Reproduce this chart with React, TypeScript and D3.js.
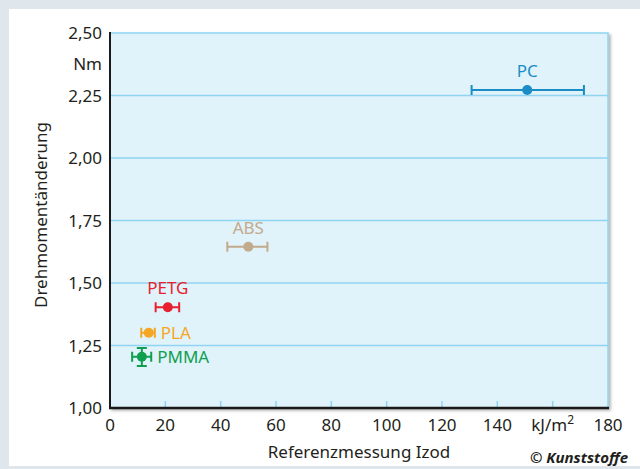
import React from 'react';
import * as d3 from 'd3';

// materials
const materials = ['PC', 'ABS', 'PETG', 'PLA', 'PMMA'];
const izod = [150.8, 50, 20.9, 14, 11.5];
const izodLow = [130.7, 42.4, 16.5, 11.3, 8];
const izodHigh = [171.3, 56.9, 25, 16.2, 14.9];
const torque = [2.272, 1.645, 1.403, 1.301, 1.205];
const torqueLow = [null, null, null, null, 1.168];
const torqueHigh = [null, null, null, null, 1.24];
const colors = ['#1a8dc6', '#c2aa8c', '#e8202f', '#f5a623', '#0f9f4f'];
const labelPos = ['top', 'top', 'top', 'right', 'right'];

const xTicks = [0, 20, 40, 60, 80, 100, 120, 140, 160, 180];
const yTicks = [1.0, 1.25, 1.5, 1.75, 2.0, 2.25, 2.5];

const FONT = '"Noto Sans", "Open Sans", sans-serif';

const App = () => {
    const width = 640;
    const height = 469;
    const plot = { left: 110, right: 608, top: 33, bottom: 408 };

    const x = d3.scaleLinear().domain([0, 180]).range([plot.left, plot.right]);
    const y = d3.scaleLinear().domain([1.0, 2.5]).range([plot.bottom, plot.top]);

    const fmt = (v) => d3.format('.2f')(v).replace('.', ',');

    return (
        <svg width={width} height={height} style={{ position: 'absolute', left: 0, top: 0 }} fontFamily={FONT}>
            <defs>
                <filter id="shadow" x="-5%" y="-5%" width="112%" height="112%">
                    <feDropShadow dx="2" dy="2" stdDeviation="1.5" floodColor="#000" floodOpacity="0.3" />
                </filter>
            </defs>

            {/* frame */}
            <rect x={0} y={0} width={width} height={height} fill="#dfe6ec" />
            <rect x={9} y={9} width={width - 9} height={height - 12} fill="#ffffff" />

            {/* plot area */}
            <rect x={plot.left} y={plot.top} width={plot.right - plot.left} height={plot.bottom - plot.top}
                fill="#e0f2fa" stroke="#8fd4f0" strokeWidth={1.5} filter="url(#shadow)" />

            {/* gridlines */}
            {yTicks.slice(1, -1).map(t => (
                <line key={t} x1={plot.left} x2={plot.right} y1={y(t)} y2={y(t)} stroke="#8fd4f0" strokeWidth={1.5} />
            ))}

            {/* bottom ticks */}
            {xTicks.slice(1, -1).map(t => (
                <line key={t} x1={x(t)} x2={x(t)} y1={plot.bottom} y2={plot.bottom - 7} stroke="#8fd4f0" strokeWidth={1.5} />
            ))}

            {/* axes */}
            <line x1={plot.left} x2={plot.left} y1={plot.top - 1} y2={plot.bottom + 1} stroke="#1a1a1a" strokeWidth={2} />
            <line x1={plot.left - 1} x2={plot.right + 1} y1={plot.bottom} y2={plot.bottom} stroke="#1a1a1a" strokeWidth={2.5} />

            {/* y tick labels */}
            {yTicks.map(t => (
                <text key={t} x={plot.left - 8} y={y(t) + 6} textAnchor="end" fontSize={17} fill="#231f20">{fmt(t)}</text>
            ))}
            <text x={plot.left - 8} y={70} textAnchor="end" fontSize={17} fill="#231f20">Nm</text>

            {/* x tick labels */}
            {xTicks.map(t => (
                t === 160
                    ? <text key={t} x={x(t)} y={431} textAnchor="middle" fontSize={17} fill="#231f20">
                        kJ/m<tspan dy={-7} fontSize={12}>2</tspan>
                    </text>
                    : <text key={t} x={x(t)} y={431} textAnchor="middle" fontSize={17} fill="#231f20">{t}</text>
            ))}

            {/* axis titles */}
            <text x={359} y={458} textAnchor="middle" fontSize={17} fill="#231f20">Referenzmessung Izod</text>
            <text transform={`translate(47, ${215}) rotate(-90)`} textAnchor="middle" fontSize={17} fill="#231f20">Drehmomentänderung</text>
            <text x={628} y={463} textAnchor="end" fontSize={15} fontWeight="bold" fontStyle="italic" fill="#231f20">© Kunststoffe</text>

            {/* points with error bars */}
            {materials.map((m, i) => {
                const cx = x(izod[i]);
                const cy = y(torque[i]);
                const c = colors[i];
                const lo = torqueLow[i];
                const hi = torqueHigh[i];
                return (
                    <g key={m}>
                        <line x1={x(izodLow[i])} x2={x(izodHigh[i])} y1={cy} y2={cy} stroke={c} strokeWidth={2} />
                        <line x1={x(izodLow[i])} x2={x(izodLow[i])} y1={cy - 5} y2={cy + 5} stroke={c} strokeWidth={2} />
                        <line x1={x(izodHigh[i])} x2={x(izodHigh[i])} y1={cy - 5} y2={cy + 5} stroke={c} strokeWidth={2} />
                        {lo !== null && hi !== null && (
                            <g>
                                <line x1={cx} x2={cx} y1={y(lo)} y2={y(hi)} stroke={c} strokeWidth={2} />
                                <line x1={cx - 5} x2={cx + 5} y1={y(lo)} y2={y(lo)} stroke={c} strokeWidth={2} />
                                <line x1={cx - 5} x2={cx + 5} y1={y(hi)} y2={y(hi)} stroke={c} strokeWidth={2} />
                            </g>
                        )}
                        <circle cx={cx} cy={cy} r={5} fill={c} />
                        {labelPos[i] === 'top'
                            ? <text x={cx} y={cy - 13} textAnchor="middle" fontSize={17} fill={c}>{m}</text>
                            : <text x={x(izodHigh[i]) + 6} y={cy + 6} fontSize={17} fill={c}>{m}</text>}
                    </g>
                );
            })}
        </svg>
    );
};

export default App;
